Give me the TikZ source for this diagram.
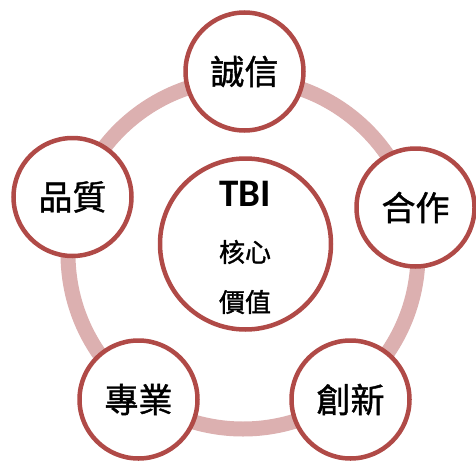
\documentclass[tikz,border=0pt]{standalone}
\usepackage{fontspec}
\newfontfamily\cjk[FakeBold=1.2]{Noto Sans CJK TC}
\newfontfamily\lat{Carlito}
\definecolor{ringc}{RGB}{220,176,176}
\definecolor{edgec}{RGB}{176,74,71}
\begin{document}
\begin{tikzpicture}[x=1pt,y=-1pt,
  val/.style={circle,draw=edgec,line width=4.5pt,fill=white,minimum size=118pt,inner sep=0pt,font=\cjk\fontsize{34}{34}\selectfont},
  core/.style={circle,draw=edgec,line width=4.5pt,fill=white,minimum size=171pt,inner sep=0pt}]
\useasboundingbox (0,0) rectangle (476,460);
\coordinate (rc) at (243,254);
\draw[ringc,line width=15pt] (rc) circle[radius=175];
\node[core] (core) at (245.5,244) {};
\node[font=\lat\bfseries\fontsize{39}{39}\selectfont] (tbi) at (245,194) {TBI};
\node[font=\cjk\fontsize{26}{26}\selectfont] (hx) at (245,252) {核心};
\node[font=\cjk\fontsize{26}{26}\selectfont] (jz) at (245,302) {價值};
\node[val] (cx) at (244.5,71.5) {誠信};
\node[val] (hz) at (415.5,207.5) {合作};
\node[val] (cn) at (350.5,399.5) {創新};
\node[val] (zy) at (138.5,399.5) {專業};
\node[val] (pz) at (72.5,197) {品質};
\end{tikzpicture}
\end{document}
